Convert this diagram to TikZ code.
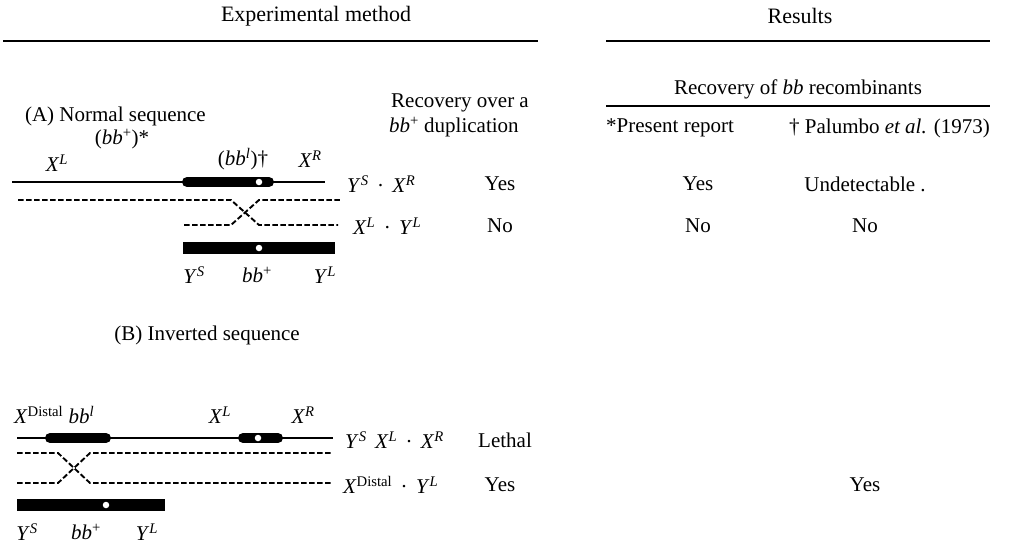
\documentclass[tikz,border=0pt]{standalone}
\usepackage{fontspec}
\setmainfont{Liberation Serif}
\usetikzlibrary{
  positioning,  % Function "of"
  calc,         % Calculations $...$
}
\newcommand{\gene}[2]{\textit{#1}\textsuperscript{\textit{#2}}}
\newcommand{\bbp}{\textit{bb}\textsuperscript{+}}
\newcommand{\jn}{\hspace{0.4em}·\hspace{0.4em}}
\tikzset{
  x=1pt,y=-1pt,
  every node/.style={font=\fontsize{21}{23}\selectfont,inner sep=0pt},
  head/.style={font=\fontsize{22}{24}\selectfont},
  rule/.style={line width=1.5pt},
  chrom/.style={line width=2.8pt},
  seg/.style={line width=10pt,line cap=round},
  blk/.style={line width=12pt},
  homolog/.style={line width=1.9pt,dash pattern=on 5.5pt off 2.5pt},
  centro/.style={circle,fill=white,minimum size=6.5pt,inner sep=0pt},
}

\begin{document}
\begin{tikzpicture}
\useasboundingbox (0,0) rectangle (1011,544);
% headings
\node[head] (exp) at (316,16) {Experimental method};
\node[head] (res) at (800,16) {Results};
\coordinate (expl) at (3,41);   \coordinate (expr) at (538,41);
\coordinate (resl) at (606,41); \coordinate (resr) at (990,41);
\draw[rule] (expl) -- (expr);
\draw[rule] (resl) -- (resr);
\node (rec)  at (798,89) {Recovery of \textit{bb} recombinants};
\coordinate (recl) at (606,106); \coordinate (recr) at (990,106);
\draw[rule] (recl) -- (recr);
\node[anchor=west] (pres) at (606,128) {*Present report};
\node[anchor=east] (pal)  at (990,128) {\dag\ Palumbo \textit{et al.} (1973)};
\node[anchor=west] (over) at (391,103) {Recovery over a};
\node[anchor=west] (dup)  at (389,127) {\bbp\ duplication};

% (A) normal sequence
\node[anchor=east] (A) at (206,116) {(A) Normal sequence};
\node (bbpA) at (122,139) {(\bbp)*};
\node (XLA)  at (57,163)  {\gene{X}{L}};
\node (bblA) at (243,159) {(\gene{bb}{l})\dag};
\node (XRA)  at (310,159) {\gene{X}{R}};
\coordinate (a1) at (12,182);  \coordinate (a2) at (325,182);
\coordinate (a3) at (187,182); \coordinate (a4) at (269,182);
\draw[chrom] (a1) -- (a2);
\draw[seg] (a3) -- (a4);
\node[centro] (cA1) at (259,182) {};
\draw[homolog] (18,200) -- (231,200) -- (259,225) -- (338,225);
\draw[homolog] (184,225) -- (231,225) -- (259,200) -- (340,200);
\coordinate (a5) at (183,248); \coordinate (a6) at (335,248);
\draw[blk] (a5) -- (a6);
\node[centro] (cA2) at (259,248) {};
\node (YSA) at (194,275) {\gene{Y}{S}};
\node (bbA) at (257,275) {\bbp};
\node (YLA) at (325,275) {\gene{Y}{L}};

\node[anchor=west] (r1) at (347,184) {\gene{Y}{S}\jn\gene{X}{R}};
\node[anchor=west] (r2) at (353,226) {\gene{X}{L}\jn\gene{Y}{L}};
\node (r1a) at (500,184) {Yes};
\node (r1b) at (698,184) {Yes};
\node (r1c) at (865,184) {Undetectable .};
\node (r2a) at (500,226) {No};
\node (r2b) at (698,226) {No};
\node (r2c) at (865,226) {No};

% (B) inverted sequence
\node (B) at (207,335) {(B) Inverted sequence};
\node[anchor=west] (XD) at (14,415) {\textit{X}\textsuperscript{Distal} \textit{bb}\textsuperscript{\textit{l}}};
\node (XLB) at (220,415) {\gene{X}{L}};
\node (XRB) at (303,415) {\gene{X}{R}};
\coordinate (b1) at (17,438);  \coordinate (b2) at (333,438);
\coordinate (b3) at (50,438);  \coordinate (b4) at (106,438);
\coordinate (b5) at (243,438); \coordinate (b6) at (278,438);
\draw[chrom] (b1) -- (b2);
\draw[seg] (b3) -- (b4);
\draw[seg] (b5) -- (b6);
\node[centro] (cB1) at (258,438) {};
\draw[homolog] (17,453) -- (58,453) -- (90,483) -- (333,483);
\draw[homolog] (17,483) -- (58,483) -- (90,453) -- (333,453);
\coordinate (b7) at (17,505); \coordinate (b8) at (165,505);
\draw[blk] (b7) -- (b8);
\node[centro] (cB2) at (106,505) {};
\node (YSB) at (27,532)  {\gene{Y}{S}};
\node (bbB) at (86,532)  {\bbp};
\node (YLB) at (147,532) {\gene{Y}{L}};

\node[anchor=west] (r3) at (345,440) {\gene{Y}{S}\hspace{0.4em}\gene{X}{L}\jn\gene{X}{R}};
\node[anchor=west] (r4) at (343,485) {\textit{X}\textsuperscript{Distal}\jn\gene{Y}{L}};
\node[anchor=west] (r3a) at (478,440) {Lethal};
\node (r4a) at (500,485) {Yes};
\node (r4c) at (865,485) {Yes};
\end{tikzpicture}
\end{document}
